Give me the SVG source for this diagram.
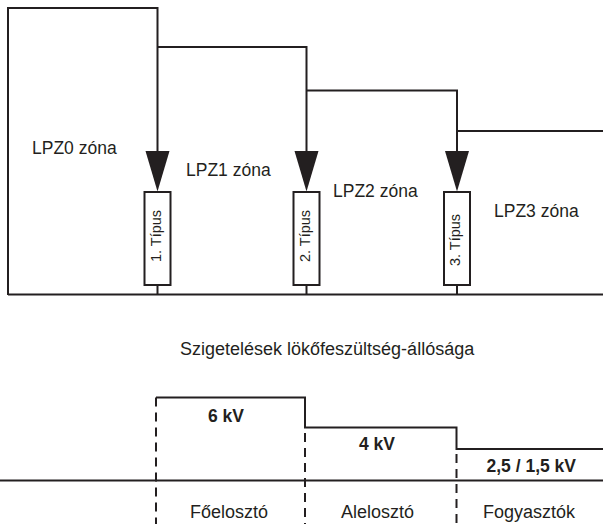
<svg xmlns="http://www.w3.org/2000/svg" width="603" height="524" viewBox="0 0 603 524">
<defs>
<style>
.ln{fill:none;stroke:#231f20;stroke-width:2}
.ds{fill:none;stroke:#231f20;stroke-width:2;stroke-dasharray:9 6}
.ar{fill:#231f20;stroke:none}
.bx{fill:#fff;stroke:#231f20;stroke-width:2}
.t{font-family:"Liberation Sans",Arial,sans-serif;fill:#231f20}
.z{font-size:17.5px}
.r{font-size:14.5px}
.b{font-size:17.5px;font-weight:bold}
.l{font-size:18px}
</style>
<g id="spd" class="ln">
<path class="ar" d="M-12 0 L12 0 L0 40.5 Z"/>
<rect class="bx" x="-13" y="41" width="26" height="93"/>
<line x1="0" y1="134" x2="0" y2="143.5"/>
</g>
</defs>
<g id="connectors">
<path class="ln" d="M8 295 V8 H157.5 V152"/>
<path class="ln" d="M157.5 47 H306.5 V152"/>
<path class="ln" d="M306.5 90.5 H457 V152"/>
<path class="ln" d="M457 131 H603"/>
<line class="ln" x1="8" y1="294.5" x2="603" y2="294.5"/>
</g>
<g id="zone0"><text class="t z" x="32" y="154">LPZ0 zóna</text></g>
<g id="zone1"><text class="t z" x="186" y="176">LPZ1 zóna</text></g>
<g id="zone2"><text class="t z" x="333" y="196.5">LPZ2 zóna</text></g>
<g id="zone3"><text class="t z" x="494" y="216.5">LPZ3 zóna</text></g>
<g id="spd1">
<use href="#spd" x="157.5" y="151"/>
<text class="t r" transform="translate(160.5 236) rotate(-90)" text-anchor="middle">1. Típus</text>
</g>
<g id="spd2">
<use href="#spd" x="306.5" y="151"/>
<text class="t r" transform="translate(309.5 236) rotate(-90)" text-anchor="middle">2. Típus</text>
</g>
<g id="spd3">
<use href="#spd" x="457" y="151"/>
<text class="t r" transform="translate(460 240) rotate(-90)" text-anchor="middle">3. Típus</text>
</g>
<g id="title"><text class="t l" x="180" y="355">Szigetelések lökőfeszültség-állósága</text></g>
<g id="chart">
<path class="ln" d="M156 397.5 H305 V427.5 H456.5 V449 H603"/>
<line class="ln" x1="0" y1="480.5" x2="603" y2="480.5"/>
<line class="ds" x1="156" y1="397.5" x2="156" y2="524"/>
<line class="ds" x1="305" y1="433" x2="305" y2="524"/>
<line class="ds" x1="456.5" y1="454" x2="456.5" y2="524"/>
</g>
<g id="v6"><text class="t b" x="208" y="421.5">6 kV</text></g>
<g id="v4"><text class="t b" x="359" y="450">4 kV</text></g>
<g id="v25"><text class="t b" x="486.5" y="471.5">2,5 / 1,5 kV</text></g>
<g id="foeloszto"><text class="t l" x="190" y="518">Főelosztó</text></g>
<g id="aleloszto"><text class="t l" x="341" y="518">Alelosztó</text></g>
<g id="fogyasztok"><text class="t l" x="483" y="518">Fogyasztók</text></g>
</svg>
